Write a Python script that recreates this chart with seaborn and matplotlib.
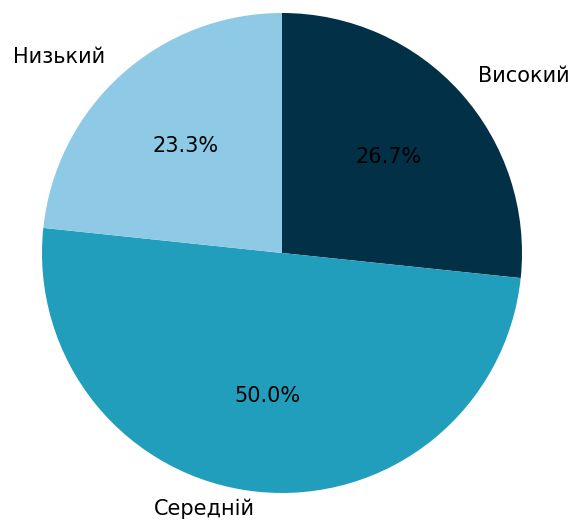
import matplotlib
matplotlib.use("Agg")
import matplotlib.pyplot as plt
import seaborn as sns

sns.set_style("white")
plt.rcParams['font.family'] = ['DejaVu Sans']

labels = ['Високий', 'Середній', 'Низький']
counts = [8, 15, 7]
colors = ['#023047', '#219ebc', '#8ecae6']

fig = plt.figure(figsize=(5.76, 5.23), dpi=100)
ax = fig.add_axes([0, 0, 1, 1])
wedges, texts, autotexts = ax.pie(counts, labels=labels, colors=colors, autopct='%1.1f%%',
       startangle=90, counterclock=False,
       wedgeprops={'linewidth': 0, 'edgecolor': 'none'},
       textprops={'fontsize': 15, 'color': 'black'})
# bottom label sits a little closer to the pie so it stays inside the figure
x, y = texts[1].get_position()
texts[1].set_position((x, -1.065))
ax.set_xlim(-1.175, 1.225)
ax.set_ylim(-1.125, 1.054)
ax.set_aspect('equal')
ax.axis('off')
fig.savefig('out.png', dpi=100)
